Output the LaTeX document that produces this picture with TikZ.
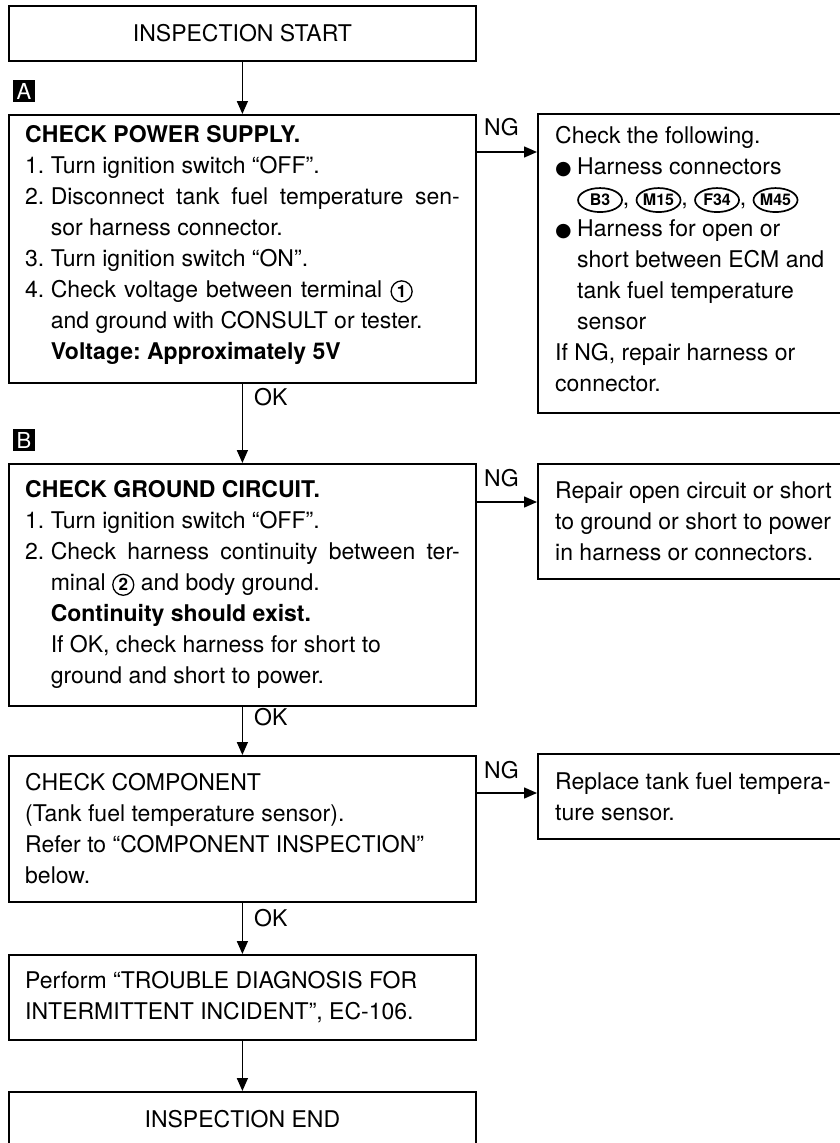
\documentclass[tikz,border=0pt]{standalone}
\usepackage{fontspec}
\setmainfont{TeX Gyre Heros}
\newfontfamily\dotfont{DejaVu Sans}
\usetikzlibrary{arrows.meta,shapes.geometric}

\newcommand{\bodysize}{\fontsize{23}{31}\selectfont\frenchspacing}
\newcommand{\blob}{\makebox[22pt][l]{\dotfont\fontsize{19}{19}\selectfont ●}}
\newcommand{\hangsp}{\hspace*{22pt}}
\newcommand{\fullline}[2][409pt]{\makebox[#1][s]{#2}}
\tikzset{
	plainnode/.style={anchor=base,minimum width=0pt,minimum height=0pt,text width=,align=center},
	termring/.style={plainnode,draw,circle,line width=1.3pt,inner sep=0pt,minimum size=21pt,font=\bfseries\fontsize{17}{17}\selectfont},
	connring/.style={plainnode,draw,ellipse,line width=1.7pt,inner sep=0pt,minimum width=44pt,minimum height=24pt,font=\bfseries\fontsize{16}{16}\selectfont}
}
\newcommand{\termno}[1]{\tikz[baseline=(tn.base)]\node[termring] (tn) {#1};}
\newcommand{\connno}[1]{\tikz[baseline=(cn.base)]\node[connring] (cn) {#1};}

\begin{document}
\begin{tikzpicture}[x=1pt,y=-1pt,
	stepbox/.style={draw,line width=1.8pt,anchor=north west,minimum width=467pt},
	fixbox/.style={draw,line width=1.8pt,anchor=north west,minimum width=330pt},
	boxtext/.style={anchor=west,inner sep=0pt,align=left,font=\bodysize},
	endbox/.style={draw,line width=1.8pt,anchor=north west,minimum width=467pt,minimum height=55pt,align=center,font=\bodysize},
	tag/.style={fill=black,text=white,inner sep=0pt,minimum size=22pt,font=\fontsize{22}{22}\selectfont},
	flow/.style={-{Triangle[length=13pt,width=11pt]},line width=1.5pt},
	edgetext/.style={anchor=west,inner sep=0pt,font=\bodysize}]

	\clip (0,0) rectangle (840,1143);

	% START
	\node[endbox] (start) at (8,5) {INSPECTION START};

	% STEP A: POWER SUPPLY
	\node[tag] (tagA) at (24,91) {A};
	\node[stepbox,minimum height=268pt] (chkA) at (8,114) {};
	\node[boxtext] (chkAtxt) at ([xshift=17pt,yshift=4pt]chkA.west) {\textbf{CHECK POWER SUPPLY.}\\
		1. Turn ignition switch “OFF”.\\
		2. \fullline{Disconnect tank fuel temperature sen-}\\
		\phantom{2. }sor harness connector.\\
		3. Turn ignition switch “ON”.\\
		4. \fullline[362pt]{Check voltage between terminal \termno{1}}\\
		\phantom{4. }and ground with CONSULT or tester.\\
		\phantom{4. }\textbf{Voltage: Approximately 5V}};
	\node[fixbox,minimum height=299pt] (fixA) at (537,113) {};
	\node[boxtext] (fixAtxt) at ([xshift=18pt,yshift=4pt]fixA.west) {Check the following.\\
		\blob Harness connectors\\
		\hangsp\connno{B3}, \connno{M15}, \connno{F34}, \connno{M45}\\
		\blob Harness for open or\\
		\hangsp short between ECM and\\
		\hangsp tank fuel temperature\\
		\hangsp sensor\\
		If NG, repair harness or\\
		connector.};

	% STEP B: GROUND CIRCUIT
	\node[tag] (tagB) at (24,440) {B};
	\node[stepbox,minimum height=242pt] (chkB) at (8,463) {};
	\node[boxtext] (chkBtxt) at ([xshift=17pt]chkB.west) {\textbf{CHECK GROUND CIRCUIT.}\\
		1. Turn ignition switch “OFF”.\\
		2. \fullline{Check harness continuity between ter-}\\
		\phantom{2. }minal \termno{2} and body ground.\\
		\phantom{2. }\textbf{Continuity should exist.}\\
		\phantom{2. }If OK, check harness for short to\\
		\phantom{2. }ground and short to power.};
	\node[fixbox,minimum height=115pt] (fixB) at (537,463) {};
	\node[boxtext] (fixBtxt) at ([xshift=18pt]fixB.west) {Repair open circuit or short\\
		to ground or short to power\\
		in harness or connectors.};

	% STEP C: COMPONENT
	\node[stepbox,minimum height=146pt] (chkC) at (8,755) {};
	\node[boxtext] (chkCtxt) at ([xshift=17pt]chkC.west) {CHECK COMPONENT\\
		(Tank fuel temperature sensor).\\
		Refer to “COMPONENT INSPECTION”\\
		below.};
	\node[fixbox,minimum height=85pt] (fixC) at (537,753) {};
	\node[boxtext] (fixCtxt) at ([xshift=18pt]fixC.west) {Replace tank fuel tempera-\\
		ture sensor.};

	% INTERMITTENT INCIDENT
	\node[stepbox,minimum height=85pt] (perform) at (8,954) {};
	\node[boxtext] (performtxt) at ([xshift=17pt]perform.west) {Perform “TROUBLE DIAGNOSIS FOR\\
		INTERMITTENT INCIDENT”, EC-106.};

	% END
	\node[endbox] (finish) at (8,1091) {INSPECTION END};

	% ARROWS DOWN
	\draw[flow] (start.south) -- (chkA.north);
	\draw[flow] (chkA.south) -- (chkB.north);
	\draw[flow] (chkB.south) -- (chkC.north);
	\draw[flow] (chkC.south) -- (perform.north);
	\draw[flow] (perform.south) -- (finish.north);
	\node[edgetext] (okA) at (254,397) {OK};
	\node[edgetext] (okB) at (254,717) {OK};
	\node[edgetext] (okC) at (254,918) {OK};

	% ARROWS RIGHT
	\coordinate (ngA) at (0,152);
	\coordinate (ngB) at (0,502);
	\coordinate (ngC) at (0,793);
	\draw[flow] (chkA.east |- ngA) -- (fixA.west |- ngA);
	\draw[flow] (chkB.east |- ngB) -- (fixB.west |- ngB);
	\draw[flow] (chkC.east |- ngC) -- (fixC.west |- ngC);
	\node[edgetext] (ngAtxt) at (484,127) {NG};
	\node[edgetext] (ngBtxt) at (484,478) {NG};
	\node[edgetext] (ngCtxt) at (484,770) {NG};

\end{tikzpicture}
\end{document}
